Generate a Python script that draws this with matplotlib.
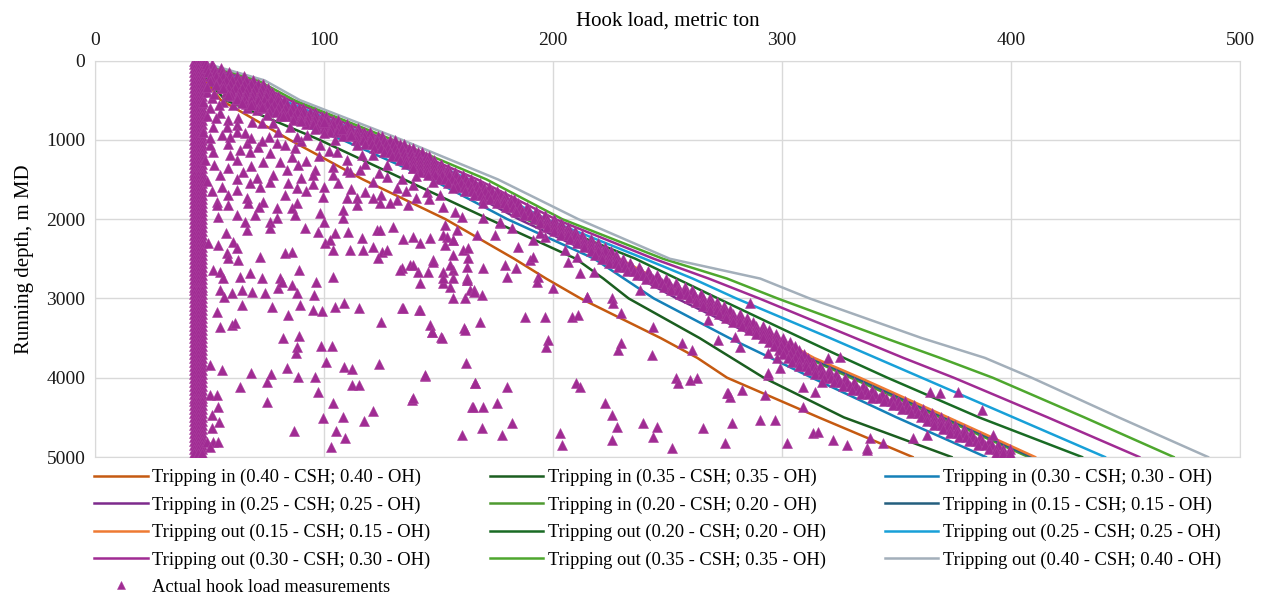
import matplotlib.pyplot as plt

plt.rcParams['font.family'] = ['Liberation Serif', 'DejaVu Serif']

# running depth (m MD) at which the simulated hook loads are tabulated
depth = [0, 250, 500, 1000, 1500, 2000, 2500, 2750, 3000, 3500, 3750, 4000, 4500, 5000]

# simulated hook load (t), tripping in, friction factor CSH/OH
in_040 = [44, 48, 55, 85, 117, 153, 183, 197, 212, 247, 263, 276, 316, 357]
in_035 = [44, 49, 57, 98, 135, 172, 210, 222, 233, 264, 278, 292, 327, 374]
in_030 = [44, 51, 61, 108, 147, 180, 218, 231, 244, 277, 295, 313, 350, 389]
in_025 = [44, 54, 67, 113, 153, 185, 222, 238, 254, 290, 307, 322, 360, 400]
in_020 = [44, 57, 72, 117, 156.5, 188, 226, 242, 258, 295, 311, 330, 369, 407.6]
in_015 = [44, 58, 74, 118, 157.5, 189, 227, 243.5, 259.5, 296.5, 312.5, 332, 371, 409]

# simulated hook load (t), tripping out
out_015 = [44, 60, 76, 119, 158, 190, 229, 245, 261, 298, 314, 334, 372.5, 410.5]
out_020 = [44, 63, 79, 121, 160, 193, 236, 254, 272, 308.5, 327, 346, 386, 431]
out_025 = [44, 66, 82, 124, 163.5, 197, 240, 261, 280, 321, 341, 361, 401, 441]
out_030 = [44, 68, 85, 127, 167, 201, 244, 268, 290, 332, 353, 375, 416, 456]
out_035 = [44, 71, 87, 130, 171, 204, 248, 276, 298, 345, 369, 392, 432, 471]
out_040 = [44, 74, 89.5, 134, 176, 211, 251, 290.5, 312, 361, 388.6, 409, 447, 486]

# readings taken in slips: block weight only, logged at every stand
slips_depth = [
    0, 50, 100, 150, 200, 250, 300, 350, 400, 450, 500, 550, 600, 650, 700, 750,
    800, 850, 900, 950, 1000, 1050, 1100, 1150, 1200, 1250, 1300, 1350, 1400,
    1450, 1500, 1550, 1600, 1650, 1700, 1750, 1800, 1850, 1900, 1950, 2000, 2050,
    2100, 2150, 2200, 2250, 2300, 2350, 2400, 2450, 2500, 2550, 2600, 2650, 2700,
    2750, 2800, 2850, 2900, 2950, 3000, 3050, 3100, 3150, 3200, 3250, 3300, 3350,
    3400, 3450, 3500, 3550, 3600, 3650, 3700, 3750, 3800, 3850, 3900, 3950, 4000,
    4050, 4100, 4150, 4200, 4250, 4300, 4350, 4400, 4450, 4500, 4550, 4600, 4650,
    4700, 4750, 4800, 4850, 4900, 4950,
]
slips_load = [43.2, 45.1, 46.9]

# readings while moving the string: depth (m) and the loads (t) logged there
moving_rows = [
    (0, [48.0]),
    (50, [48.5, 51.0]),
    (100, [49.0, 52.0, 55.0]),
    (150, [49.5, 52.5, 55.5, 58.5]),
    (200, [50.0, 53.0, 56.0, 59.0, 62.0, 65.0]),
    (250, [51.0, 54.0, 57.0, 60.0, 63.0, 66.0, 69.0]),
    (300, [53.0, 56.0, 59.0, 62.0, 65.0, 68.0, 71.0, 73.5]),
    (350, [55.0, 58.0, 61.0, 64.0, 67.0, 70.0, 73.0, 75.5]),
    (400, [57.0, 60.0, 63.0, 66.0, 69.0, 72.0, 75.0, 77.5]),
    (450, [59.5, 62.5, 65.5, 68.5, 71.5, 74.5, 77.5, 80.0]),
    (500, [62.0, 65.0, 68.0, 71.0, 74.0, 77.0, 80.0, 82.5]),
    (550, [66.0, 69.0, 72.0, 75.0, 78.0, 81.0, 84.0, 86.5]),
    (600, [71.0, 74.0, 77.0, 80.0, 83.0, 86.0, 89.0, 91.0]),
    (650, [76.0, 79.0, 82.0, 85.0, 88.0, 91.0, 94.0, 96.0]),
    (700, [81.0, 84.0, 87.0, 90.0, 93.0, 96.0, 99.0, 101.0]),
    (750, [86.5, 89.5, 92.5, 95.5, 98.5, 101.5, 104.0, 106.0]),
    (800, [92.0, 95.0, 98.0, 101.0, 104.0, 107.0, 110.0]),
    (850, [97.0, 100.0, 103.0, 106.0, 109.0, 112.0, 115.0]),
    (900, [102.5, 105.5, 108.5, 111.5, 114.5, 117.5, 120.0]),
    (950, [108.5, 111.5, 114.5, 117.5, 120.5, 123.5, 125.5]),
    (1000, [114.0, 117.0, 120.0, 123.0, 126.0, 129.0, 131.0]),
    (1050, [118.0, 121.0, 124.0, 127.0, 130.0, 133.0, 135.0]),
    (1100, [122.0, 125.0, 128.0, 131.0, 134.0, 137.0, 139.0]),
    (1150, [126.0, 129.0, 132.0, 135.0, 138.0, 141.0, 143.0]),
    (1200, [129.5, 132.5, 135.5, 138.5, 141.5, 144.5, 146.0]),
    (1250, [133.0, 136.0, 139.0, 142.0, 145.0, 148.0]),
    (1300, [136.0, 139.0, 142.0, 145.0, 148.0, 151.0]),
    (1350, [139.0, 142.0, 145.0, 148.0, 151.0, 154.0]),
    (1400, [142.0, 145.0, 148.0, 151.0, 154.0, 157.0]),
    (1450, [145.5, 148.5, 151.5, 154.5, 157.5, 160.5]),
    (1500, [150.0, 153.0, 156.0, 159.0, 162.0, 164.0]),
    (1550, [154.0, 157.0, 160.0, 163.0, 166.0, 168.0]),
    (1600, [158.0, 161.0, 164.0, 167.0, 170.0, 172.0]),
    (1650, [161.5, 164.5, 167.5, 170.5, 173.5, 175.5]),
    (1700, [165.5, 168.5, 171.5, 174.5, 177.5, 179.0]),
    (1750, [169.5, 172.5, 175.5, 178.5, 181.5, 183.0]),
    (1800, [175.5, 178.5, 181.5, 184.5]),
    (1850, [179.5, 182.5, 185.5, 188.5]),
    (1900, [183.5, 186.5, 189.5, 192.5]),
    (1950, [187.5, 190.5, 193.5, 196.5]),
    (2000, [191.5, 194.5, 197.5, 200.5]),
    (2050, [194.5, 197.5, 200.5, 203.5]),
    (2100, [197.5, 200.5, 203.5, 206.5]),
    (2150, [200.5, 203.5, 206.5, 209.5]),
    (2200, [203.5, 206.5, 209.5, 212.5]),
    (2250, [207.5, 210.5, 213.5, 216.5]),
    (2300, [210.5, 213.5, 216.5, 219.5]),
    (2350, [213.5, 216.5, 219.5, 222.5]),
    (2400, [216.5, 219.5, 222.5, 225.5]),
    (2450, [218.5, 221.5, 224.5, 227.5]),
    (2500, [221.5, 224.5, 227.5, 230.5]),
    (2550, [224.5, 227.5, 230.5, 233.5]),
    (2600, [228.5, 231.5, 234.5, 237.5]),
    (2650, [232.5, 235.5, 238.5, 241.5]),
    (2700, [236.5, 239.5, 242.5, 245.5]),
    (2750, [240.5, 243.5, 246.5, 249.5]),
    (2800, [244.5, 247.5, 250.5, 253.5]),
    (2850, [248.5, 251.5, 254.5, 257.5]),
    (2900, [251.5, 254.5, 257.5, 260.5]),
    (2950, [255.5, 258.5, 261.5, 264.5]),
    (3000, [259.5, 262.5, 265.5, 268.5]),
    (3050, [262.5, 265.5, 268.5, 271.5]),
    (3100, [265.5, 268.5, 271.5, 274.5]),
    (3150, [268.5, 271.5, 274.5, 277.5]),
    (3200, [272.5, 275.5, 278.5, 281.5]),
    (3250, [275.5, 278.5, 281.5, 284.5]),
    (3300, [278.5, 281.5, 284.5, 287.5]),
    (3350, [282.5, 285.5, 288.5, 291.5]),
    (3400, [285.5, 288.5, 291.5, 294.5]),
    (3450, [288.5, 291.5, 294.5, 297.5]),
    (3500, [291.5, 294.5, 297.5, 300.5]),
    (3550, [294.5, 297.5, 300.5, 303.5]),
    (3600, [296.5, 299.5, 302.5, 305.5]),
    (3650, [298.5, 301.5, 304.5, 307.5]),
    (3700, [300.5, 303.5, 306.5, 309.5]),
    (3750, [302.5, 305.5, 308.5, 311.5]),
    (3800, [304.5, 307.5, 310.5, 313.5]),
    (3850, [307.5, 310.5, 313.5, 316.5]),
    (3900, [311.5, 314.5, 317.5, 320.5]),
    (3950, [314.5, 317.5, 320.5, 323.5]),
    (4000, [318.5, 321.5, 324.5, 327.5]),
    (4050, [322.5, 325.5, 328.5, 331.5]),
    (4100, [326.5, 329.5, 332.5, 335.5]),
    (4150, [330.5, 333.5, 336.5, 339.5]),
    (4200, [334.5, 337.5, 340.5, 343.5]),
    (4250, [339.5, 342.5, 345.5, 348.5]),
    (4300, [344.5, 347.5, 350.5, 353.5]),
    (4350, [348.5, 351.5, 354.5, 357.5]),
    (4400, [352.5, 355.5, 358.5, 361.5]),
    (4450, [356.5, 359.5, 362.5, 365.5]),
    (4500, [360.5, 363.5, 366.5, 369.5]),
    (4550, [363.5, 366.5, 369.5, 372.5]),
    (4600, [366.5, 369.5, 372.5, 375.5]),
    (4650, [370.5, 373.5, 376.5, 379.5]),
    (4700, [373.5, 376.5, 379.5, 382.5]),
    (4750, [377.5, 380.5, 383.5, 386.5]),
    (4800, [381.5, 384.5, 387.5, 390.5]),
    (4850, [385.5, 388.5, 391.5, 394.5]),
    (4900, [390.5, 393.5, 396.5, 399.5]),
    (4950, [393.5, 396.5, 399.5]),
]

# measured hook load off the main trend: (hook load t, depth m)
loose_points = [
    (50.2, 603), (54.6, 666), (58.2, 750), (62.6, 729), (51.7, 835), (57.5, 835),
    (61.9, 813), (68.4, 772), (72.8, 792), (55.3, 940), (59, 961), (65.5, 918),
    (66.2, 1044), (71.3, 1087), (76.1, 961), (79.3, 1044), (83, 1066), (87.3, 1107),
    (51.7, 1150), (50.2, 1066), (59, 1192), (63.3, 1129), (67.7, 1150), (76.4, 1171),
    (73.5, 1276), (80.8, 1276), (88.8, 1318), (96.1, 1381), (104, 1339), (109.9, 1381),
    (54.6, 1444), (64.8, 1402), (70.6, 1486), (77.9, 1444), (55.3, 1591), (61.9, 1633),
    (67.7, 1549), (72.1, 1591), (76.4, 1528), (84.4, 1549), (95.3, 1444), (99.7, 1717),
    (106.2, 1549), (111.4, 1402), (115.7, 1381), (121.5, 1528), (127.4, 1465),
    (131.7, 1612), (139, 1570), (144.8, 1654), (150.7, 1696), (109.9, 1738),
    (114.3, 1738), (121.5, 1738), (131.7, 1759), (66.2, 1738), (73.5, 1780),
    (53.1, 1780), (114.3, 1066), (121.5, 1192), (116.5, 1192), (105.5, 1150),
    (127.4, 1318), (139, 1360), (147.7, 1528), (156.5, 1612), (98.3, 1066),
    (92.4, 940), (85.2, 835), (77.9, 792), (75, 687), (70.6, 624), (66.2, 603),
    (60.4, 561), (56, 519), (48.8, 393), (50.9, 477),
    (50, 260), (53, 310), (56, 350), (49, 330), (52, 420), (58, 440), (62, 480),
    (47, 520), (54, 560), (64, 530), (68, 560), (73, 590), (49, 700), (53, 730),
    (47, 900), (50, 980), (48, 1250), (52, 1320), (49, 1520), (51, 1650), (58, 1690),
    (62, 1500), (58, 1350), (62, 1260), (68, 1330), (86, 1220), (92, 1270), (98, 1200),
    (84, 1380), (90, 1480), (100, 1600), (92, 1650), (83, 1700), (58, 1050), (90, 1010),
    (105, 1000), (100, 920), (96, 860), (90, 760), (82, 700), (100, 780), (108, 870),
    (112, 940), (102, 1140), (110, 1260), (118, 1300), (124, 1420), (134, 1500),
    (140, 1460), (104, 1450), (95, 1560), (88, 1610), (112, 1620), (118, 1660),
    (125, 1690), (140, 1740), (136, 1650), (146, 1750), (62, 900), (68, 980),
    (73, 1010), (80, 900), (88, 960),
    (53.1, 1822), (58.2, 1822), (66.9, 1801), (71.6, 1843), (79.3, 1864), (85.9, 1864),
    (88.4, 1801), (108.4, 1885), (114.3, 1822), (124.5, 1801), (128.8, 1801),
    (136.8, 1822), (53.8, 1970), (61.9, 1948), (65.5, 2032), (69.9, 1948), (76.4, 2032),
    (79.3, 1990), (87.3, 1948), (98.3, 1927), (100, 2032), (108.4, 1990), (57.1, 2179),
    (66.2, 2137), (76.4, 2116), (91.7, 2116), (97.2, 2166), (104.8, 2179), (110.3, 2159),
    (116.7, 2242), (123, 2137), (124.5, 2137), (130.3, 2096), (134.4, 2255), (139, 2222),
    (49.5, 2305), (53.8, 2327), (60.4, 2285), (61.9, 2368), (57.5, 2431), (100.4, 2305),
    (102.6, 2264), (104, 2390), (111.4, 2390), (117.2, 2390), (121.5, 2348),
    (125.2, 2411), (127.4, 2390), (141.9, 2305), (146.3, 2242), (152.1, 2200),
    (156.5, 2264), (58.2, 2494), (62.6, 2516), (72.1, 2482), (83, 2431), (85.9, 2411),
    (123.7, 2494), (133.9, 2621), (137.6, 2579), (141.2, 2663), (145.6, 2663),
    (147.7, 2516), (152.1, 2663), (156.5, 2642), (160.8, 2390), (162.3, 2600),
    (162.3, 2768), (163.8, 2894), (161.6, 2999), (51.7, 2642), (54.6, 2663), (56, 2747),
    (63.3, 2726), (67.7, 2684), (72.8, 2747), (80.8, 2747), (89.2, 2642), (96.5, 2789),
    (104, 2726), (54.6, 2894), (59.7, 2936), (64, 2894), (68.4, 2915), (74.2, 2936),
    (80, 2873), (81.5, 2789), (85.9, 2831), (88.1, 2927), (95.6, 2957), (56.3, 2978),
    (64, 3083), (77.1, 3104), (84.4, 3209), (89.5, 3083), (95, 3146), (99.3, 3159),
    (104.8, 3104), (108.9, 3062), (115.4, 3125), (124.9, 3294), (133.9, 3125),
    (141.6, 3146), (161.3, 3377), (53.1, 3167), (54.6, 3357), (59.7, 3335), (61.1, 3314),
    (146.3, 3335), (147.3, 3420), (151.1, 3491), (82, 3495), (89.2, 3474), (88.1, 3609),
    (87.6, 3685), (98.6, 3596), (103.6, 3596), (100.7, 3798), (108.9, 3861),
    (112.1, 3890), (124, 3831), (144.1, 3975), (162, 3819), (50.2, 3840), (55.6, 3903),
    (68.1, 3945), (76.7, 3953), (84, 3882), (88.8, 3987), (96.1, 3987), (63.3, 4121),
    (75, 4050), (97.5, 4176), (112.4, 4092), (115.3, 4092), (165.9, 4071), (50.2, 4218),
    (53.1, 4218), (53.8, 4366), (75, 4302), (104, 4323), (121.3, 4420), (138.6, 4281),
    (164.8, 4373), (51, 4470), (51, 4638), (54.1, 4554), (99.7, 4512), (108.1, 4499),
    (117.6, 4546), (87, 4672), (105.2, 4668), (109.2, 4764), (160.1, 4722), (48.8, 4807),
    (51.7, 4807), (53.8, 4807), (50.2, 4870), (102.9, 4870),
    (152.1, 1843), (157.2, 1906), (160.1, 1970), (152.8, 2074), (158, 2137),
    (153.6, 2222), (156.5, 2264), (152.8, 2327), (163, 2368), (155, 2579), (156.5, 2747),
    (152.1, 2810), (162.3, 2747), (165.3, 2894), (169.5, 1801), (169.5, 1990),
    (176.9, 2053), (181.9, 2116), (166.7, 2200), (174.7, 2200), (184.8, 2348),
    (190, 2516), (191.4, 2474), (193.6, 2726), (192.8, 2789), (184, 2621), (179.8, 2726),
    (179, 2579), (200.1, 2873), (214.7, 2978), (225.6, 2999), (191.4, 2264),
    (196.5, 2230), (184, 1906), (176.9, 2032), (194.3, 2179), (205.2, 2390),
    (206.7, 2537), (210.3, 2474), (211.8, 2684), (217.7, 2663), (238, 2894),
    (133.2, 2642), (139, 2579), (147.7, 2537), (156.5, 2453), (163, 2494), (169.5, 2621),
    (152.1, 2747), (162.3, 2768), (155, 2852), (165.3, 2915), (168.8, 2957),
    (141.9, 2810), (156.5, 2999), (134.6, 3125), (141.9, 3146), (147, 3420),
    (151.4, 3503), (161.6, 3398), (168.1, 3294), (187.8, 3231), (196.5, 3231),
    (198, 3524), (196.8, 3609), (144.1, 3966), (165.9, 4071), (179.8, 4113), (139, 4260),
    (164.9, 4366), (169.5, 4366), (175.4, 4323), (181.9, 4575), (168.8, 4638),
    (177.6, 4722), (209.9, 4071), (211.8, 4113), (203.1, 4701), (203.8, 4849),
    (222.7, 4323), (225.6, 4470), (227.8, 4618), (225.6, 4785), (239.4, 4575),
    (245.2, 4618), (243.8, 4744), (251.8, 4890), (253.9, 4008), (254.7, 4071),
    (259.8, 4029), (262.8, 4008), (275.8, 4197), (277.3, 4239), (282.4, 4155),
    (292.6, 4218), (265.6, 4638), (278, 4575), (290.4, 4533), (297, 4533), (275.1, 4827),
    (302, 4827), (313.7, 4701), (315.9, 4681), (322.4, 4785), (328.2, 4849),
    (336.9, 4890), (338.4, 4764), (344.2, 4827), (243.1, 3714), (229.9, 3566),
    (228.5, 3651), (256.2, 3566), (260.6, 3651), (243.8, 3357), (229.9, 3188),
    (226.3, 3062), (214.7, 2978), (208.2, 3231), (211, 3209), (294, 3966), (299.1, 3882),
    (309.3, 4366), (272.2, 3524), (279.5, 3483), (281.7, 3609), (294, 3692),
    (297.7, 3756), (294, 3945), (276.5, 4197), (309.3, 4113), (314.4, 4176),
    (317.3, 4050), (325.3, 3735), (320.2, 3756), (364.6, 4176), (369, 4197),
    (377, 4176), (286, 3062), (267.9, 3272), (387.2, 4407), (337, 4912), (357.3, 4764),
    (363.2, 4722), (392.3, 4722),
]

series = [
    ('Tripping in (0.40 - CSH; 0.40 - OH)', in_040, '#c55a11'),
    ('Tripping in (0.35 - CSH; 0.35 - OH)', in_035, '#1b5e20'),
    ('Tripping in (0.30 - CSH; 0.30 - OH)', in_030, '#1580b8'),
    ('Tripping in (0.25 - CSH; 0.25 - OH)', in_025, '#7d2a8c'),
    ('Tripping in (0.20 - CSH; 0.20 - OH)', in_020, '#4e9a30'),
    ('Tripping in (0.15 - CSH; 0.15 - OH)', in_015, '#245f7e'),
    ('Tripping out (0.15 - CSH; 0.15 - OH)', out_015, '#ee7a33'),
    ('Tripping out (0.20 - CSH; 0.20 - OH)', out_020, '#196b24'),
    ('Tripping out (0.25 - CSH; 0.25 - OH)', out_025, '#18a0d8'),
    ('Tripping out (0.30 - CSH; 0.30 - OH)', out_030, '#a02b93'),
    ('Tripping out (0.35 - CSH; 0.35 - OH)', out_035, '#4ea72e'),
    ('Tripping out (0.40 - CSH; 0.40 - OH)', out_040, '#a3afba'),
]

meas_x, meas_d = [], []
for d in slips_depth:
    for hl in slips_load:
        meas_x.append(hl)
        meas_d.append(d)
for d, loads in moving_rows:
    for hl in loads:
        meas_x.append(hl)
        meas_d.append(d)
for hl, d in loose_points:
    meas_x.append(hl)
    meas_d.append(d)

fig = plt.figure(figsize=(12.66, 5.97), dpi=100)
ax = fig.add_axes([95 / 1266, 1 - 457 / 597, 1145 / 1266, 396.5 / 597])

handles = []
for label, values, color in series:
    line, = ax.plot(values, depth, color=color, lw=1.8, label=label, zorder=2)
    handles.append(line)

marks, = ax.plot(meas_x, meas_d, ls='none', marker='^', ms=7,
                 mfc='#a02b93', mec='#ab3f9e', mew=0.4, zorder=3,
                 label='Actual hook load measurements')

ax.set_xlim(0, 500)
ax.set_ylim(5000, 0)
ax.set_xticks(range(0, 501, 100))
ax.set_yticks(range(0, 5001, 1000))
ax.xaxis.tick_top()
ax.xaxis.set_label_position('top')
ax.tick_params(length=0, labelsize=14, labelcolor='#1a1a1a')
ax.tick_params(axis='x', pad=8)
ax.tick_params(axis='y', pad=7)
ax.grid(color='#d9d9d9', lw=1)
ax.set_axisbelow(True)
for sp in ax.spines.values():
    sp.set_color('#d9d9d9')
ax.set_xlabel('Hook load, metric ton', fontsize=15, labelpad=5)
ax.set_ylabel('Running depth, m MD', fontsize=15, labelpad=9)

# legend reads row by row: reorder for matplotlib's column-major fill
order = [handles[0], handles[3], handles[6], handles[9], marks,
         handles[1], handles[4], handles[7], handles[10],
         handles[2], handles[5], handles[8], handles[11]]
fig.legend(handles=order, labels=[h.get_label() for h in order],
           loc='upper left', bbox_to_anchor=(94 / 1266, 1 - 469 / 597),
           ncol=3, frameon=False, fontsize=13.3, handlelength=2.9,
           handletextpad=0.25, columnspacing=3.2, labelspacing=0.55,
           borderpad=0, borderaxespad=0, numpoints=1, markerscale=0.85)

fig.savefig('out.png', dpi=100)
